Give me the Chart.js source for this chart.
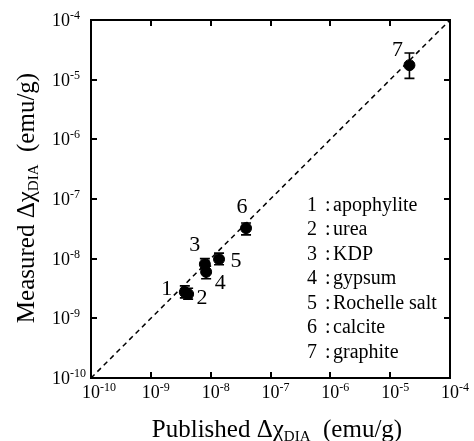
<!DOCTYPE html>
<html>
<head>
<meta charset="utf-8">
<script src="https://cdn.jsdelivr.net/npm/chart.js@4/dist/chart.umd.min.js"></script>
<style>
  html, body { margin: 0; padding: 0; background: #fff; }
  #c { display: block; }
</style>
</head>
<body>
<canvas id="c" width="474" height="441"></canvas>
<script>
// Published vs measured diamagnetic anisotropy, log-log with y = x guide.
const materials = ['apophylite', 'urea', 'KDP', 'gypsum', 'Rochelle salt', 'calcite', 'graphite'];
const published = [3.7e-9, 4.2e-9, 8.0e-9, 8.4e-9, 1.38e-8, 3.9e-8, 2.1e-5];
const measured = [2.75e-9, 2.55e-9, 8.1e-9, 6.0e-9, 9.8e-9, 3.25e-8, 1.75e-5];
const errLow = [2.2e-9, 2.1e-9, 6.8e-9, 4.6e-9, 7.9e-9, 2.5e-8, 1.05e-5];
const errHigh = [3.5e-9, 3.2e-9, 1.0e-8, 7.5e-9, 1.24e-8, 3.95e-8, 2.8e-5];
const decades = [-10, -9, -8, -7, -6, -5, -4];
const guide = [1e-10, 1e-4];

// label nudges (px) for the numbers next to each point
const labelOffsets = [[-18, -3], [14, 4], [-10, -19], [14, 11], [17, 2], [-4, -21], [-12, -15]];

const SERIF = "'Liberation Serif', 'DejaVu Serif', serif";
const ink = '#000';

const decadeTicks = (s) => { s.ticks = decades.map((p) => ({ value: Math.pow(10, p) })); };

const errorBars = {
  id: 'errorBars',
  afterDatasetsDraw(chart) {
    const { ctx, scales: { x, y } } = chart;
    ctx.save();
    ctx.strokeStyle = ink;
    ctx.lineWidth = 1.6;
    published.forEach((v, i) => {
      const px = x.getPixelForValue(v);
      const y0 = y.getPixelForValue(errLow[i]), y1 = y.getPixelForValue(errHigh[i]);
      ctx.beginPath();
      ctx.moveTo(px, y0); ctx.lineTo(px, y1);
      ctx.moveTo(px - 5, y0); ctx.lineTo(px + 5, y0);
      ctx.moveTo(px - 5, y1); ctx.lineTo(px + 5, y1);
      ctx.stroke();
    });
    // numbers beside the points
    ctx.fillStyle = ink;
    ctx.font = `22px ${SERIF}`;
    ctx.textAlign = 'center';
    ctx.textBaseline = 'middle';
    published.forEach((v, i) => {
      const [dx, dy] = labelOffsets[i];
      ctx.fillText(String(i + 1), x.getPixelForValue(v) + dx, y.getPixelForValue(measured[i]) + dy);
    });
    ctx.restore();
  },
};

function drawParts(ctx, parts, cx, baseY) {
  // parts: [text, fontPx, baselineShift]
  let total = 0;
  for (const [t, f] of parts) { ctx.font = `${f}px ${SERIF}`; total += ctx.measureText(t).width; }
  let cur = cx - total / 2;
  ctx.textAlign = 'left';
  ctx.textBaseline = 'alphabetic';
  for (const [t, f, dy] of parts) {
    ctx.font = `${f}px ${SERIF}`;
    ctx.fillText(t, cur, baseY + dy);
    cur += ctx.measureText(t).width;
  }
}

const frame = {
  id: 'frame',
  afterDraw(chart) {
    const { ctx, chartArea: a, scales: { x, y } } = chart;
    ctx.save();
    ctx.strokeStyle = ink;
    ctx.fillStyle = ink;
    ctx.lineWidth = 2;
    ctx.strokeRect(a.left, a.top, a.right - a.left, a.bottom - a.top);

    const tl = 6;
    ctx.beginPath();
    for (const t of x.ticks) {
      const px = Math.round(x.getPixelForValue(t.value));
      ctx.moveTo(px, a.bottom); ctx.lineTo(px, a.bottom - tl);
      ctx.moveTo(px, a.top); ctx.lineTo(px, a.top + tl);
    }
    for (const t of y.ticks) {
      const py = Math.round(y.getPixelForValue(t.value));
      ctx.moveTo(a.left, py); ctx.lineTo(a.left + tl, py);
      ctx.moveTo(a.right, py); ctx.lineTo(a.right - tl, py);
    }
    ctx.stroke();

    // tick labels 10^n
    ctx.textBaseline = 'alphabetic';
    for (const t of x.ticks) {
      const px = x.getPixelForValue(t.value);
      const e = Math.round(Math.log10(t.value));
      ctx.font = `18px ${SERIF}`;
      const w = ctx.measureText('10').width;
      ctx.textAlign = 'center';
      ctx.fillText('10', px, a.bottom + 20);
      ctx.font = `12px ${SERIF}`;
      ctx.textAlign = 'left';
      ctx.fillText(String(e), px + w / 2, a.bottom + 13);
    }
    for (const t of y.ticks) {
      const py = y.getPixelForValue(t.value);
      const e = Math.round(Math.log10(t.value));
      ctx.font = `18px ${SERIF}`;
      ctx.textAlign = 'left';
      const w = ctx.measureText('10').width;
      ctx.fillText('10', 52, py + 6);
      ctx.font = `12px ${SERIF}`;
      ctx.fillText(String(e), 52 + w, py - 1);
    }

    // axis titles
    drawParts(ctx, [['Published \u0394\u03c7', 25, 0], ['DIA', 15, 4], ['  (emu/g)', 25, 0]], 277, 437);
    ctx.save();
    ctx.translate(34, 198);
    ctx.rotate(-Math.PI / 2);
    drawParts(ctx, [['Measured \u0394\u03c7', 25, 0], ['DIA', 15, 4], ['  (emu/g)', 25, 0]], 0, 0);
    ctx.restore();

    // key
    ctx.font = `20px ${SERIF}`;
    materials.forEach((m, i) => {
      const by = 210.5 + 24.5 * i;
      ctx.textAlign = 'left';
      ctx.fillText(String(i + 1), 307, by);
      ctx.fillText(':', 325, by);
      ctx.fillText(m, 333, by);
    });
    ctx.restore();
  },
};

new Chart(document.getElementById('c'), {
  type: 'scatter',
  data: {
    datasets: [
      {
        label: 'y = x',
        data: guide.map((v) => ({ x: v, y: v })),
        showLine: true,
        borderColor: ink,
        borderWidth: 1.5,
        borderDash: [5, 4],
        pointRadius: 0,
      },
      {
        label: 'samples',
        data: published.map((v, i) => ({ x: v, y: measured[i] })),
        backgroundColor: ink,
        borderColor: ink,
        pointRadius: 5.5,
        pointHoverRadius: 5.5,
      },
    ],
  },
  options: {
    responsive: false,
    animation: false,
    devicePixelRatio: 1,
    layout: { padding: { left: 91, top: 20, right: 24, bottom: 63 } },
    plugins: { legend: { display: false }, tooltip: { enabled: false } },
    scales: {
      x: { type: 'logarithmic', min: 1e-10, max: 1e-4, display: false, ticks: { autoSkip: false }, afterBuildTicks: decadeTicks },
      y: { type: 'logarithmic', min: 1e-10, max: 1e-4, display: false, ticks: { autoSkip: false }, afterBuildTicks: decadeTicks },
    },
  },
  plugins: [errorBars, frame],
});
</script>
</body>
</html>
